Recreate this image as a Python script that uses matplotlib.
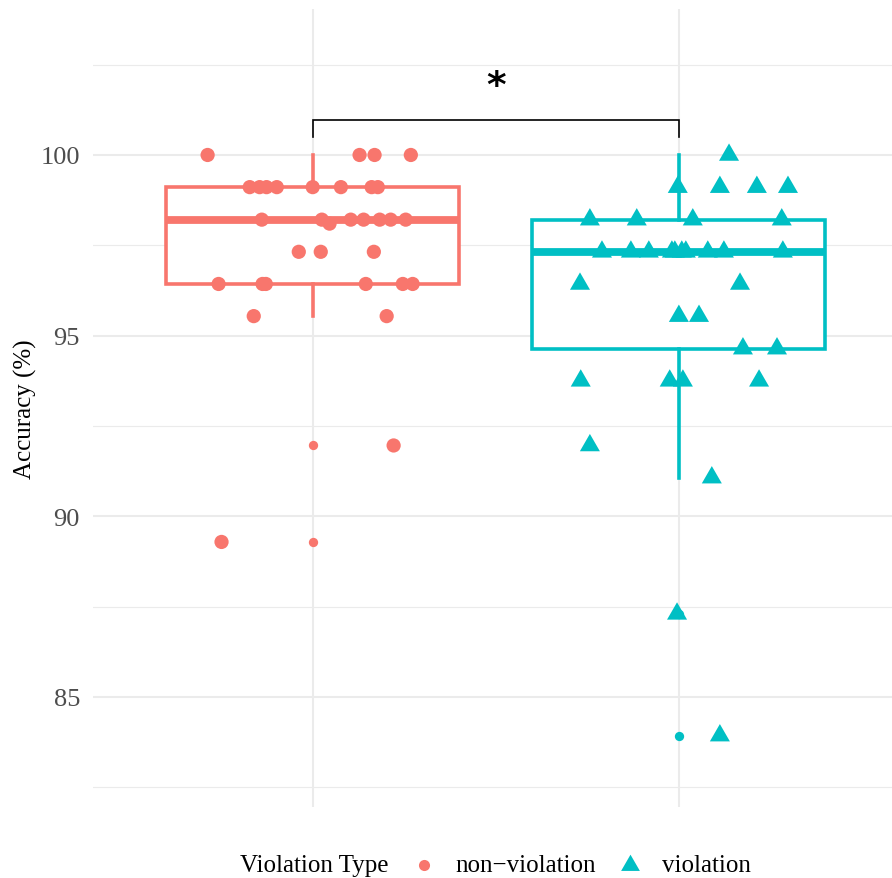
import numpy as np
import matplotlib
matplotlib.use("Agg")
import matplotlib.pyplot as plt
from matplotlib.lines import Line2D

plt.rcParams['font.family'] = ['Liberation Serif', 'DejaVu Serif']

# accuracy values (%) and horizontal jitter (category units)
nonviol_acc = [100, 100, 100, 100,
               99.11, 99.11, 99.11, 99.11, 99.11, 99.11, 99.11, 99.11,
               98.21, 98.21, 98.1, 98.21, 98.21, 98.21, 98.21, 98.21,
               97.32, 97.32, 97.32,
               96.43, 96.43, 96.43, 96.43, 96.43, 96.43,
               95.54, 95.54,
               91.96, 89.29]
nonviol_jit = [-0.287, 0.128, 0.169, 0.268,
               -0.172, -0.145, -0.126, -0.098, 0.0, 0.077, 0.161, 0.178,
               -0.139, 0.025, 0.046, 0.104, 0.139, 0.183, 0.213, 0.254,
               -0.038, 0.022, 0.167,
               -0.257, -0.137, -0.128, 0.145, 0.246, 0.273,
               -0.161, 0.202,
               0.221, -0.249]

viol_acc = [100,
            99.11, 99.11, 99.11, 99.11,
            98.21, 98.21, 98.21, 98.21,
            97.32, 97.32, 97.32, 97.32, 97.32, 97.32, 97.32, 97.32, 97.32, 97.32,
            96.43, 96.43,
            95.54, 95.54,
            94.64, 94.64,
            93.75, 93.75, 93.75, 93.75,
            91.96, 91.07, 87.3, 83.93]
viol_jit = [0.137,
            -0.003, 0.112, 0.213, 0.298,
            -0.243, -0.115, 0.038, 0.281,
            -0.210, -0.131, -0.082, -0.019, 0.008, 0.079, 0.123, 0.284, -0.011, 0.019,
            -0.270, 0.167,
            0.0, 0.055,
            0.175, 0.268,
            -0.268, -0.025, 0.011, 0.219,
            -0.243, 0.090, -0.005, 0.112]

groups = ['non\u2212violation', 'violation']
colors = ['#F8766D', '#00BFC4']
# triangle centred on its centroid, like ggplot's shape 17
tri = [(0, 0.577), (-0.5, -0.289), (0.5, -0.289)]

fig = plt.figure(figsize=(8.92, 8.79), dpi=100)
ax = fig.add_axes([0.10426, 0.08077, 0.9031, 0.90785])

bp = ax.boxplot([nonviol_acc, viol_acc], positions=[1, 2], widths=0.8, whis=1.5,
                patch_artist=True, showcaps=False, zorder=2)
for i, c in enumerate(colors):
    bp['boxes'][i].set(facecolor='white', edgecolor=c, linewidth=2.6)
    bp['medians'][i].set(color=c, linewidth=5.6, solid_capstyle='butt')
    for w in bp['whiskers'][2 * i:2 * i + 2]:
        w.set(color=c, linewidth=2.6)
    bp['fliers'][i].set(marker='o', markerfacecolor=c, markeredgecolor='none',
                        markersize=6.7)

ax.scatter(1 + np.array(nonviol_jit), nonviol_acc, s=105, marker='o',
           color=colors[0], edgecolors='none', zorder=3)
ax.scatter(2 + np.array(viol_jit), viol_acc, s=277, marker=tri,
           color=colors[1], edgecolors='none', zorder=3)

# significance bracket
ax.plot([1, 1, 2, 2], [100.5, 100.97, 100.97, 100.5], color='black', lw=1.2,
        zorder=4, solid_joinstyle='miter')
ax.text(1.5, 101.62, '*', ha='center', va='baseline', fontsize=27,
        family='DejaVu Sans', fontweight='bold', color='black')

ax.set_xlim(0.4, 2.6)
ax.set_ylim(81.954, 104.04)
ax.set_xticks([1, 2])
ax.set_xticklabels(['', ''])
ax.set_yticks([85, 90, 95, 100])
ax.set_yticks([82.5, 87.5, 92.5, 97.5, 102.5], minor=True)
ax.tick_params(axis='both', which='both', length=0)
ax.tick_params(axis='y', labelsize=19, labelcolor='#4D4D4D', pad=9.4)
ax.grid(True, which='major', color='#EBEBEB', linewidth=1.45)
ax.grid(True, which='minor', axis='y', color='#EBEBEB', linewidth=0.85)
ax.set_axisbelow(True)
for s in ax.spines.values():
    s.set_visible(False)

ax.set_ylabel('Accuracy (%)', fontsize=18, color='black')
ax.yaxis.set_label_coords(-0.07, 0.5)

# legend along the bottom
fy = 1 - 872 / 879
ky = 1 - 866 / 879
fig.text(240 / 892, fy, 'Violation Type', fontsize=18, va='baseline', ha='left')
fig.add_artist(Line2D([424 / 892], [ky], transform=fig.transFigure,
                      marker='o', markersize=8, color=colors[0], markeredgecolor='none'))
fig.text(455 / 892, fy, groups[0], fontsize=18, va='baseline', ha='left')
fig.add_artist(Line2D([630 / 892], [ky], transform=fig.transFigure,
                      marker=tri, markersize=15.6, color=colors[1], markeredgecolor='none'))
fig.text(662 / 892, fy, groups[1], fontsize=18, va='baseline', ha='left')

fig.savefig('out.png', dpi=100)
